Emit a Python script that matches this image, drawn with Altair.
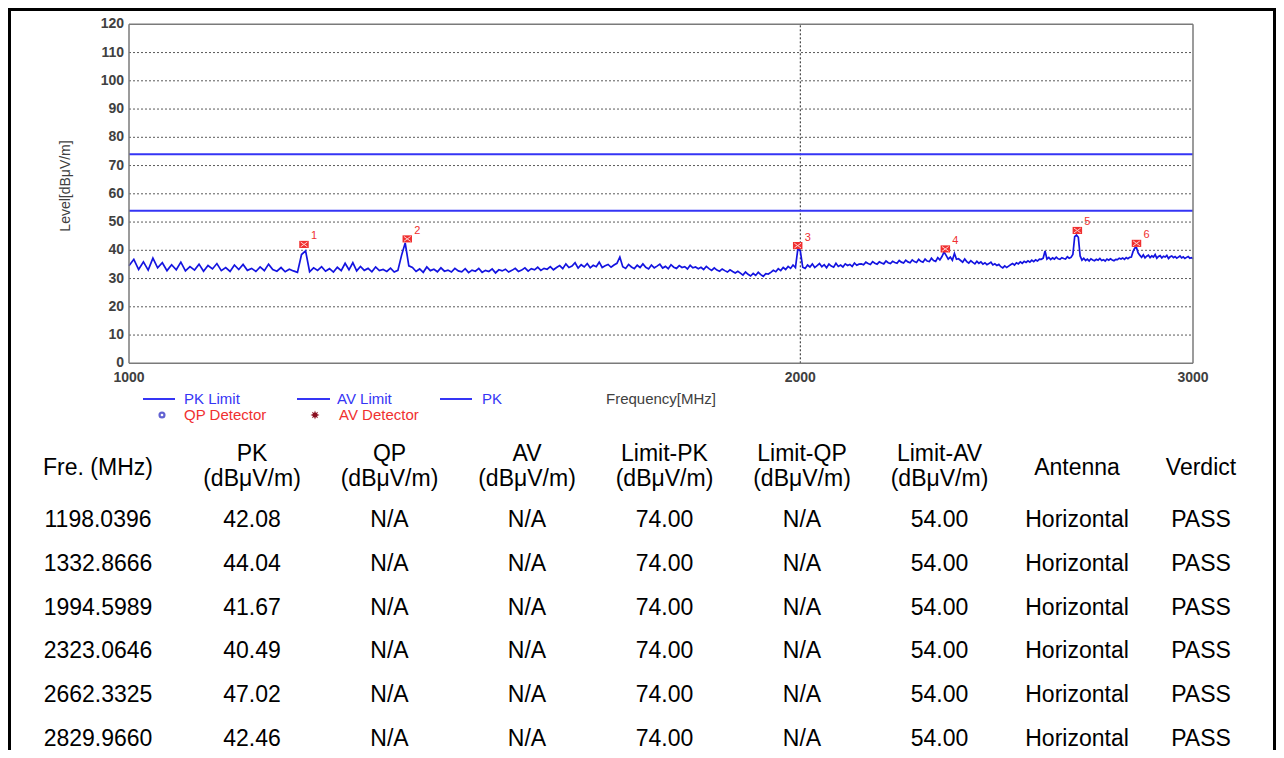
import altair as alt
import pandas as pd

# ---------------- data ----------------
# sweep grid of the analyser (MHz)
sweep_freq_mhz = list(range(1000, 3001, 5))

# PK trace (dBuV/m), one value per sweep point
pk_trace = [
    34.5, 36.8, 33.2, 35.9, 33.0, 37.2, 33.8,
    35.6, 32.8, 34.9, 33.1, 35.8, 32.7, 34.2, 33.0, 35.1, 32.6, 34.6, 33.4, 35.3, 32.8, 33.9, 32.5, 34.8, 33.2, 35.0, 32.9,
    33.6, 32.5, 34.1, 32.8, 35.1, 33.2, 32.6, 33.9, 32.4, 33.3, 32.7, 32.2,
    38.5, 39.8,
    32.4, 33.8, 32.9, 34.2, 32.6, 33.5, 32.3, 34.0, 32.8, 35.4, 33.1, 35.6, 32.7, 34.3, 32.9, 33.6, 32.4, 34.1, 32.8, 33.2, 32.5, 33.7, 32.3, 32.9,
    38.2, 42.6, 34.5,
    33.9, 32.5, 33.4, 32.2, 34.1, 32.8, 33.3, 32.4, 33.8, 32.6, 33.0, 32.3, 33.6, 32.7,
    32.4, 33.5, 32.1, 33.0, 32.6, 33.6, 32.2, 32.9, 32.5, 33.4, 32.0, 33.1, 32.7, 33.3, 32.3, 32.9, 33.6, 32.5,
    33.0, 33.8, 32.6, 33.5, 33.1, 34.0, 32.9, 33.6, 33.3, 34.2, 33.1, 33.9,
    34.6, 33.5, 35.2, 33.9, 34.4, 35.6, 33.7, 34.9, 34.1, 35.3, 33.8, 34.7, 34.2, 35.8, 33.9, 34.5, 35.0, 34.0, 34.8, 35.4,
    37.6,
    34.2, 33.6, 35.0, 34.1, 33.5, 34.7, 33.9, 35.2, 34.0, 33.4, 34.8, 33.8, 34.4, 35.1, 33.7, 34.3, 33.5, 34.9, 34.0, 33.6, 34.6, 33.9, 34.2, 33.4, 34.7, 33.8, 34.1, 33.5,
    34.0, 33.2, 34.3, 33.5, 32.9, 33.8, 33.0, 32.6, 33.4, 32.8, 32.3, 33.1, 32.5, 32.0, 32.6,
    31.9, 31.2, 32.3, 31.5, 30.9, 31.8, 31.1, 32.2, 31.4, 30.8, 31.7, 31.6,
    32.2, 32.9, 32.4, 33.5, 32.8, 33.9, 33.2, 34.3, 33.6, 34.8, 33.9,
    40.6, 39.8, 34.0,
    33.6, 34.8, 34.1, 35.2, 33.9, 34.6, 35.3, 34.2, 34.9, 33.8, 35.1, 34.4, 34.0, 35.4, 34.3, 34.8, 34.1, 35.2, 34.6, 35.0, 34.3, 35.5, 34.7, 35.1,
    35.2, 34.9, 35.8, 35.3, 35.0, 36.0, 35.4, 35.1, 35.9, 35.5, 35.2, 36.2, 35.6, 35.3, 36.1, 35.7, 35.4, 36.4, 35.8, 35.5,
    36.5, 35.9, 35.6, 36.6, 36.0, 35.7, 36.8, 36.1, 35.8, 36.9, 36.2, 36.0, 37.2, 36.4, 36.1, 37.4, 36.6,
    37.8, 39.4, 38.2, 36.9, 37.6, 36.5, 38.9, 36.8, 37.0,
    36.4, 35.8, 36.9, 36.0, 35.5, 36.3, 35.7, 35.2, 36.1, 35.4, 35.9, 35.1, 35.6, 34.9, 35.3, 35.8, 34.8, 35.2, 34.6, 35.0,
    34.2, 33.8, 34.5, 33.9, 34.4,
    34.9, 35.3, 34.8, 35.6, 35.2, 35.9, 35.4, 36.1, 35.7, 36.3, 35.8, 36.5, 36.0, 36.6, 36.2, 36.9,
    36.8, 37.2, 39.8, 36.9, 37.5, 36.7, 37.3, 36.9, 37.6, 37.0, 36.8, 37.4, 37.1, 36.9, 37.7, 37.2, 37.5,
    38.5, 44.8, 45.4, 44.6, 38.0,
    36.5, 37.2, 36.4, 36.9, 36.2, 37.0, 36.6, 36.3, 36.8, 36.5, 37.1, 36.4, 36.7, 36.2, 36.9, 36.5, 37.0, 36.6, 36.3, 36.8,
    36.7, 37.2, 36.9, 37.3, 36.8, 37.4, 37.0, 37.5, 37.6,
    39.6, 40.8, 40.9, 39.0,
    38.2, 37.5, 38.4, 37.3, 37.9, 38.3, 37.4, 38.0, 37.6, 38.5, 37.2, 37.8, 38.1, 37.3, 37.9, 37.6, 38.2, 37.1, 37.7, 38.0,
    37.4, 37.8, 37.2, 37.6, 38.0, 37.3, 37.7, 37.1, 37.5, 37.8, 37.2, 37.4, 37.0,
]

limit_names = ["PK Limit", "AV Limit"]
limit_levels = [74.0, 54.0]

marker_ids = ["1", "2", "3", "4", "5", "6"]
marker_freq = [1198.0396, 1332.8666, 1994.5989, 2323.0646, 2662.3325, 2829.9660]
marker_pk = [42.08, 44.04, 41.67, 40.49, 47.02, 42.46]

y_tick_values = [0, 10, 20, 30, 40, 50, 60, 70, 80, 90, 100, 110, 120]
x_tick_values = [1000, 2000, 3000]

table_header = ["Fre. (MHz)", "PK\n(dBμV/m)", "QP\n(dBμV/m)", "AV\n(dBμV/m)",
                "Limit-PK\n(dBμV/m)", "Limit-QP\n(dBμV/m)", "Limit-AV\n(dBμV/m)",
                "Antenna", "Verdict"]
col_fre = ["1198.0396", "1332.8666", "1994.5989", "2323.0646", "2662.3325", "2829.9660"]
col_pk = ["42.08", "44.04", "41.67", "40.49", "47.02", "42.46"]
col_qp = ["N/A", "N/A", "N/A", "N/A", "N/A", "N/A"]
col_av = ["N/A", "N/A", "N/A", "N/A", "N/A", "N/A"]
col_limit_pk = ["74.00", "74.00", "74.00", "74.00", "74.00", "74.00"]
col_limit_qp = ["N/A", "N/A", "N/A", "N/A", "N/A", "N/A"]
col_limit_av = ["54.00", "54.00", "54.00", "54.00", "54.00", "54.00"]
col_antenna = ["Horizontal"] * 6
col_verdict = ["PASS"] * 6

# ---------------- tables for the library ----------------
n = min(len(sweep_freq_mhz), len(pk_trace))
trace_df = pd.DataFrame({"freq": sweep_freq_mhz[:n], "level": pk_trace[:n]})
limits_df = pd.DataFrame({"name": limit_names, "level": limit_levels,
                          "f0": [1000] * 2, "f1": [3000] * 2})
markers_df = pd.DataFrame({"id": marker_ids, "freq": marker_freq, "level": marker_pk})
grid_df = pd.DataFrame({"level": y_tick_values[1:-1], "f0": 1000, "f1": 3000})
ytick_df = pd.DataFrame({"level": y_tick_values, "lab": [str(v) for v in y_tick_values], "f0": 1000})
xtick_df = pd.DataFrame({"freq": x_tick_values, "lab": [str(v) for v in x_tick_values], "lv": 0})
frame_h_df = pd.DataFrame({"level": [0, 120], "f0": 1000, "f1": 3000})
frame_v_df = pd.DataFrame({"freq": [1000, 3000], "l0": 0, "l1": 120})
vgrid_df = pd.DataFrame({"freq": [2000], "l0": 0, "l1": 120})

columns = [col_fre, col_pk, col_qp, col_av, col_limit_pk, col_limit_qp,
           col_limit_av, col_antenna, col_verdict]
cells = []
for ci, col in enumerate(columns):
    for ri, txt in enumerate(col):
        cells.append({"col": ci, "row": ri, "txt": txt})
cells_df = pd.DataFrame(cells)
header_df = pd.DataFrame({"col": list(range(len(table_header))), "txt": table_header})
header_df["two"] = header_df["txt"].str.contains("\n")

# ---------------- scales / styling ----------------
FONT = "Liberation Sans"
BLUE = "#3535f5"
TRACE = "#1414e0"
RED = "#f03030"
TABLE_FS = 23

xs = alt.Scale(type="log", domain=[1000, 3000], range=[121, 1185], nice=False)
ys = alt.Scale(domain=[0, 120], range=[355.3, 16.3], zero=False, nice=False)
col_scale = alt.Scale(domain=[0, 1, 7, 8], range=[90, 244, 1069, 1193], zero=False, nice=False)
row_scale = alt.Scale(domain=[0, 5], range=[512, 731], zero=False, nice=False)


def X(field, **kw):
    return alt.X(field, type="quantitative", scale=xs, axis=None, **kw)


def Y(field, **kw):
    return alt.Y(field, type="quantitative", scale=ys, axis=None, **kw)


grid_h = alt.Chart(grid_df).mark_rule(color="#5a5a5a", strokeDash=[2, 2], strokeWidth=1).encode(
    x=X("f0"), x2="f1", y=Y("level"))
grid_v = alt.Chart(vgrid_df).mark_rule(color="#222222", strokeDash=[2, 2], strokeWidth=1).encode(
    x=X("freq"), y=Y("l0"), y2="l1")
frame_h = alt.Chart(frame_h_df).mark_rule(color="#7a7a7a", strokeWidth=1.5).encode(
    x=X("f0"), x2="f1", y=Y("level"))
frame_v = alt.Chart(frame_v_df).mark_rule(color="#7a7a7a", strokeWidth=1.5).encode(
    x=X("freq"), y=Y("l0"), y2="l1")
limits = alt.Chart(limits_df).mark_rule(color=BLUE, strokeWidth=2).encode(
    x=X("f0"), x2="f1", y=Y("level"))
trace = alt.Chart(trace_df).mark_line(color=TRACE, strokeWidth=1.7).encode(
    x=X("freq"), y=Y("level"))

marker_box = "M-1,-0.75L1,-0.75L1,0.75L-1,0.75Z"
marker_x = "M-0.7,-0.5L0.7,0.5M0.7,-0.5L-0.7,0.5"
markers = alt.Chart(markers_df).mark_point(
    shape=marker_box, filled=True, color=RED, size=90, opacity=1).encode(
    x=X("freq"), y=Y("level"))
markers_x = alt.Chart(markers_df).mark_point(
    shape=marker_x, filled=False, color="#ffd0d0", strokeWidth=1, size=90, opacity=1).encode(
    x=X("freq"), y=Y("level"))
marker_labels = alt.Chart(markers_df).mark_text(
    color=RED, fontSize=11, font=FONT, dx=10, dy=-8, align="center", baseline="middle").encode(
    x=X("freq"), y=Y("level"), text="id:N")

ytick_labels = alt.Chart(ytick_df).mark_text(
    align="right", baseline="middle", dx=-5, fontSize=14, fontWeight="bold", font=FONT,
    color="#404040").encode(x=X("f0"), y=Y("level"), text="lab:N")
xtick_labels = alt.Chart(xtick_df).mark_text(
    align="center", baseline="middle", dy=15, fontSize=14, fontWeight="bold", font=FONT,
    color="#404040").encode(x=X("freq"), y=Y("lv"), text="lab:N")

y_title = alt.Chart().mark_text(
    text="Level[dBμV/m]", angle=270, fontSize=14, font=FONT, color="#404040",
    align="center", baseline="middle").encode(x=alt.value(58), y=alt.value(178))
x_title = alt.Chart().mark_text(
    text="Frequency[MHz]", fontSize=15, font=FONT, color="#404040",
    align="center", baseline="middle").encode(x=alt.value(653), y=alt.value(391))

# hand-made legend like the instrument software
leg_line1 = alt.Chart().mark_rule(color=BLUE, strokeWidth=2).encode(
    x=alt.value(135), x2=alt.value(167), y=alt.value(391))
leg_line2 = alt.Chart().mark_rule(color=BLUE, strokeWidth=2).encode(
    x=alt.value(289), x2=alt.value(322), y=alt.value(391))
leg_line3 = alt.Chart().mark_rule(color=BLUE, strokeWidth=2).encode(
    x=alt.value(432), x2=alt.value(464), y=alt.value(391))


def leg_text(txt, x, y, color):
    return alt.Chart().mark_text(text=txt, fontSize=15, font=FONT, color=color,
                                 align="left", baseline="middle").encode(
        x=alt.value(x), y=alt.value(y))


leg_t1 = leg_text("PK Limit", 176, 391, BLUE)
leg_t2 = leg_text("AV Limit", 329, 391, BLUE)
leg_t3 = leg_text("PK", 474, 391, BLUE)
leg_t4 = leg_text("QP Detector", 176, 407, RED)
leg_t5 = leg_text("AV Detector", 331, 407, RED)
leg_qp = alt.Chart().mark_point(shape="circle", filled=False, color="#2020c0", strokeWidth=2.2, size=24).encode(
    x=alt.value(154), y=alt.value(407))
star = ("M0,-1L0.2,-0.45L0.7,-0.7L0.45,-0.2L1,0L0.45,0.2L0.7,0.7L0.2,0.45L0,1"
        "L-0.2,0.45L-0.7,0.7L-0.45,0.2L-1,0L-0.45,-0.2L-0.7,-0.7L-0.2,-0.45Z")
leg_av = alt.Chart().mark_point(shape=star, filled=True, color="#8a1020", size=80, opacity=1).encode(
    x=alt.value(307), y=alt.value(407))

# table
header2 = alt.Chart(header_df).transform_filter("datum.two").mark_text(
    fontSize=TABLE_FS, font=FONT, color="#000000", lineBreak="\n", lineHeight=25,
    align="center", baseline="middle").encode(
    x=alt.X("col:Q", scale=col_scale, axis=None), y=alt.value(446), text="txt:N")
header1 = alt.Chart(header_df).transform_filter("!datum.two").mark_text(
    fontSize=TABLE_FS, font=FONT, color="#000000",
    align="center", baseline="middle").encode(
    x=alt.X("col:Q", scale=col_scale, axis=None), y=alt.value(460), text="txt:N")
body = alt.Chart(cells_df).mark_text(
    fontSize=TABLE_FS, font=FONT, color="#000000", align="center", baseline="middle").encode(
    x=alt.X("col:Q", scale=col_scale, axis=None),
    y=alt.Y("row:Q", scale=row_scale, axis=None), text="txt:N")

# outer black frame (left, top, right)
fr_left = alt.Chart().mark_rule(color="#000000", strokeWidth=3).encode(
    x=alt.value(1.5), y=alt.value(0), y2=alt.value(742))
fr_top = alt.Chart().mark_rule(color="#000000", strokeWidth=3).encode(
    x=alt.value(0), x2=alt.value(1268), y=alt.value(1.5))
fr_right = alt.Chart().mark_rule(color="#000000", strokeWidth=3).encode(
    x=alt.value(1266.5), y=alt.value(0), y2=alt.value(742))

chart = alt.layer(
    grid_h, grid_v, limits, trace, frame_h, frame_v, markers, markers_x, marker_labels,
    ytick_labels, xtick_labels, y_title, x_title,
    leg_line1, leg_line2, leg_line3, leg_t1, leg_t2, leg_t3, leg_t4, leg_t5, leg_qp, leg_av,
    header2, header1, body, fr_left, fr_top, fr_right,
).resolve_scale(x="independent", y="independent").properties(
    width=1268, height=742, padding=0,
    autosize=alt.AutoSizeParams(type="none"),
).configure_view(strokeWidth=0).configure(background="#ffffff")

chart.save("out.html", embed_options={"renderer": "svg", "actions": False})
